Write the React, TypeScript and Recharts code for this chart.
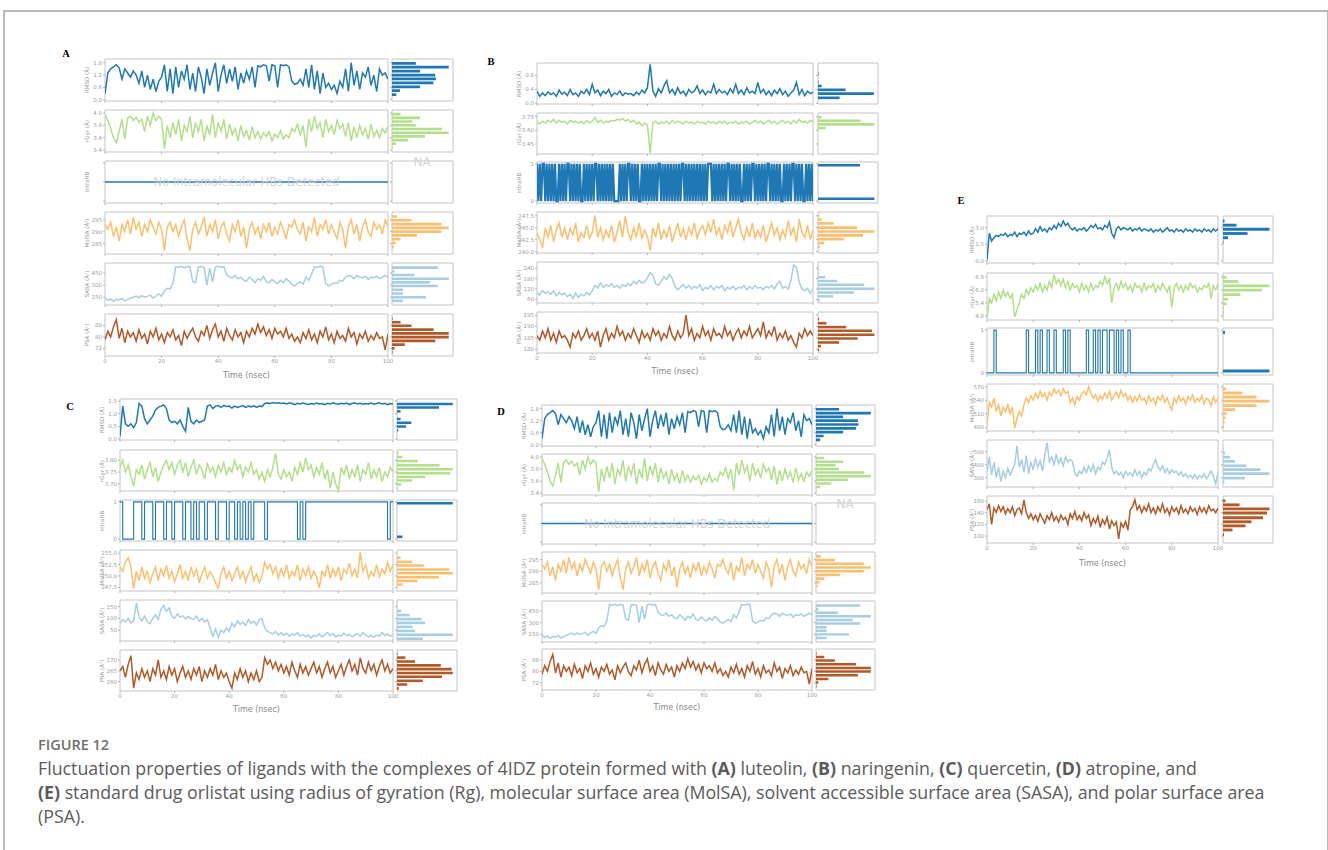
import { LineChart, Line, XAxis, YAxis, ReferenceArea, BarChart, Bar } from "recharts";

// ---- shared axis values ----
const TIME_TICKS = [0, 20, 40, 60, 80, 100];
const ROW_LABELS = ["RMSD (Å)", "rGyr (Å)", "intraHB", "MolSA (Å²)", "SASA (Å²)", "PSA (Å²)"];
const ROW_COLORS = ["#1f78b4", "#b2df8a", "#1f78b4", "#fdbf6f", "#a6cee3", "#b15928"];

// ---- panel A (luteolin); panel D shows the same traces ----
const A_RMSD = [
  0.3, 1.3, 1.5, 1.6, 1.7, 1.55, 1.0, 1.5, 1.3, 1.1,
  1.4, 1.2, 0.8, 1.4, 0.6, 1.2, 0.5, 1.0, 0.4, 0.9,
  1.1, 1.7, 0.4, 1.5, 0.3, 1.6, 0.6, 1.4, 1.0, 1.7,
  0.5, 1.3, 0.4, 1.6, 1.1, 0.3, 1.5, 0.7, 1.3, 1.8,
  0.4, 1.2, 1.7, 0.8, 1.5, 0.9, 1.6, 0.5, 1.3, 0.8,
  1.4, 1.0, 1.6, 0.6, 1.65, 1.6, 1.7, 1.65, 0.9, 1.7,
  1.65, 0.6, 1.7, 1.65, 1.7, 1.6, 0.9, 0.75, 0.8, 1.0,
  0.7, 1.5, 0.6, 1.7, 0.5, 1.4, 0.3, 1.3, 0.6, 0.8,
  0.5, 0.7, 0.3, 0.9, 0.6, 1.5, 0.4, 1.8, 0.7, 1.4,
  0.5, 1.3, 1.1, 1.6, 0.7, 1.2, 0.4, 1.5, 1.2, 1.3,
  1.0,
];
const A_RGYR = [
  3.97, 3.88, 3.75, 3.6, 3.52, 3.7, 3.9, 3.58, 3.92, 3.95,
  3.88, 3.93, 3.85, 3.9, 3.7, 3.95, 3.8, 4.0, 3.88, 3.95,
  3.9, 3.42, 3.8, 3.6, 3.85, 3.65, 3.9, 3.55, 3.8, 3.7,
  3.95, 3.6, 3.85, 3.7, 3.9, 3.55, 3.8, 3.65, 3.98, 3.6,
  3.85, 3.7, 3.9, 3.58, 3.82, 3.65, 3.75, 3.55, 3.8, 3.62,
  3.72, 3.56, 3.78, 3.6, 3.7, 3.58, 3.68, 3.62, 3.7, 3.55,
  3.66, 3.6, 3.72, 3.58, 3.65, 3.6, 3.75, 3.7, 3.82, 3.65,
  3.8, 3.45, 3.9, 3.7, 3.95, 3.75, 3.85, 3.6, 3.9, 3.7,
  3.8, 3.65, 3.88, 3.75, 3.82, 3.62, 3.85, 3.55, 3.78, 3.6,
  3.8, 3.65, 3.75, 3.58, 3.82, 3.62, 3.72, 3.6, 3.75, 3.68,
  3.78,
];
const A_HB = [0, 0];
const A_MOLSA = [
  293, 291, 294, 288, 292, 286, 293, 290, 295, 289,
  296, 291, 294, 288, 293, 290, 295, 292, 289, 294,
  291, 282, 292, 294, 290, 293, 288, 292, 295, 287,
  282, 291, 294, 289, 292, 296, 288, 293, 290, 295,
  287, 292, 294, 289, 286, 293, 290, 295, 288, 292,
  283, 291, 294, 289, 292, 287, 293, 290, 294, 288,
  292, 289, 294, 291, 287, 293, 292, 295, 291, 289,
  294, 286, 292, 290, 296, 288, 293, 291, 295, 289,
  293, 290, 287, 294, 291, 283, 292, 295, 289, 293,
  286, 292, 295, 290, 288, 294, 291, 293, 289, 295,
  292,
];
const A_SASA = [
  140, 110, 130, 100, 125, 115, 135, 105, 120, 140,
  150, 165, 145, 170, 150, 160, 175, 140, 165, 190,
  160, 230, 260, 250, 320, 530, 520, 535, 515, 530,
  525, 345, 330, 525, 530, 520, 300, 510, 340, 525,
  535, 520, 530, 430, 400, 390, 420, 380, 400, 360,
  350, 400, 370, 330, 380, 360, 410, 340, 330, 370,
  340, 320, 360, 330, 380, 350, 310, 290, 320, 340,
  310, 400, 360, 440, 530, 520, 535, 525, 320, 290,
  310, 330, 320, 360, 350, 400, 420, 410, 380, 420,
  400, 390, 410, 370, 400, 390, 410, 380, 400, 420,
  395,
];
const A_PSA = [
  78, 84, 80, 87, 92, 79, 86, 76, 84, 80,
  83, 77, 85, 79, 82, 75, 84, 80, 86, 78,
  82, 76, 83, 80, 85, 78, 81, 74, 84, 79,
  83, 86, 80, 77, 84, 81, 88, 79, 85, 89,
  80, 84, 77, 86, 81, 78, 85, 80, 83, 76,
  84, 80, 86, 82, 89, 83, 87, 81, 85, 79,
  86, 82, 84, 80, 86, 79, 82, 77, 80, 76,
  83, 79, 85, 78, 82, 76, 84, 80, 87, 78,
  82, 76, 84, 79, 81, 77, 86, 80, 83, 75,
  82, 79, 84, 77, 81, 78, 83, 79, 80, 71,
  82,
];
const A_RMSD_BINS = [1.79, 1.6, 1.41, 1.22, 1.03, 0.84, 0.65, 0.46, 0.27];
const A_RMSD_COUNTS = [39, 93, 46, 71, 72, 68, 46, 13, 7];
const A_RGYR_BINS = [3.99, 3.93, 3.87, 3.81, 3.75, 3.69, 3.63, 3.57, 3.51, 3.45];
const A_RGYR_COUNTS = [14, 46, 33, 39, 82, 93, 54, 26, 7, 1];
const A_HB_BINS = [0];
const A_HB_COUNTS = [0];
const A_MOLSA_BINS = [296.6, 295.0, 293.4, 291.8, 290.2, 288.6, 287.0, 285.4, 283.8];
const A_MOLSA_COUNTS = [8, 32, 81, 93, 81, 41, 14, 6, 3];
const A_SASA_BINS = [523, 478, 432, 386, 340, 294, 248, 202, 156, 110];
const A_SASA_COUNTS = [75, 4, 37, 93, 62, 75, 18, 18, 56, 18];
const A_PSA_BINS = [93.0, 90.5, 88.0, 85.4, 82.8, 80.2, 77.6, 75.0, 72.4, 69.8];
const A_PSA_COUNTS = [1, 14, 32, 68, 93, 93, 71, 21, 4, 1];

// ---- panel B (naringenin) ----
const B_RMSD = [
  0.35, 0.2, 0.3, 0.22, 0.33, 0.25, 0.3, 0.2, 0.38, 0.26,
  0.32, 0.22, 0.4, 0.25, 0.3, 0.2, 0.35, 0.28, 0.4, 0.25,
  0.55, 0.3, 0.38, 0.22, 0.35, 0.28, 0.4, 0.2, 0.3, 0.25,
  0.35, 0.22, 0.3, 0.26, 0.28, 0.22, 0.32, 0.25, 0.38, 0.3,
  0.45, 1.12, 0.35, 0.2, 0.42, 0.3, 0.5, 0.65, 0.3, 0.4,
  0.25, 0.45, 0.28, 0.35, 0.22, 0.4, 0.3, 0.35, 0.5, 0.28,
  0.38, 0.25, 0.35, 0.3, 0.55, 0.28, 0.4, 0.3, 0.35, 0.25,
  0.42, 0.3, 0.55, 0.28, 0.38, 0.25, 0.45, 0.3, 0.35, 0.28,
  0.6, 0.3, 0.4, 0.25, 0.35, 0.22, 0.38, 0.28, 0.42, 0.25,
  0.35, 0.2, 0.3, 0.38, 0.6, 0.25, 0.4, 0.22, 0.35, 0.28,
  0.32,
];
const B_RGYR = [
  3.69, 3.67, 3.7, 3.68, 3.71, 3.69, 3.72, 3.68, 3.71, 3.69,
  3.7, 3.67, 3.71, 3.69, 3.7, 3.68, 3.7, 3.67, 3.71, 3.68,
  3.7, 3.74, 3.69, 3.71, 3.68, 3.7, 3.69, 3.71, 3.7, 3.72,
  3.71, 3.73, 3.7, 3.72, 3.69, 3.71, 3.67, 3.69, 3.65, 3.68,
  3.66, 3.35, 3.68, 3.7, 3.67, 3.69, 3.68, 3.7, 3.67, 3.71,
  3.68, 3.7, 3.69, 3.67, 3.7, 3.68, 3.69, 3.67, 3.7, 3.68,
  3.69, 3.67, 3.7, 3.68, 3.69, 3.67, 3.7, 3.68, 3.7, 3.67,
  3.69, 3.68, 3.7, 3.67, 3.69, 3.68, 3.7, 3.67, 3.69, 3.71,
  3.68, 3.7, 3.67, 3.69, 3.71, 3.68, 3.7, 3.67, 3.69, 3.71,
  3.68, 3.7, 3.67, 3.71, 3.68, 3.72, 3.69, 3.7, 3.68, 3.71,
  3.69,
];
// sampled every 0.5 ns
const B_HB = [
  1, 0, 1, 0, 1, 1, 0, 1, 0, 1, 0, 1, 0, 1, 0, 0, 1, 0, 1, 0,
  1, 0, 1, 1, 0, 1, 0, 1, 0, 1, 0, 1, 0, 0, 1, 0, 1, 0, 1, 0,
  1, 0, 1, 1, 0, 1, 0, 1, 0, 1, 0, 1, 0, 1, 0, 1, 0, 0, 0, 0,
  1, 0, 1, 0, 1, 0, 1, 1, 0, 1, 0, 1, 0, 1, 0, 0, 1, 0, 1, 0,
  1, 0, 1, 0, 1, 0, 1, 0, 1, 1, 0, 1, 0, 1, 0, 1, 0, 1, 0, 1,
  0, 1, 0, 1, 0, 1, 1, 0, 1, 0, 1, 0, 1, 0, 1, 0, 1, 0, 1, 0,
  1, 0, 1, 0, 1, 1, 1, 0, 1, 0, 1, 0, 1, 0, 1, 0, 1, 0, 1, 1,
  0, 1, 0, 1, 0, 1, 0, 1, 0, 0, 1, 0, 1, 0, 1, 0, 1, 1, 0, 1,
  0, 1, 0, 1, 0, 1, 0, 1, 1, 0, 1, 0, 1, 0, 1, 0, 1, 0, 0, 1,
  0, 1, 0, 1, 0, 1, 1, 0, 1, 0, 1, 0, 1, 0, 0, 1, 0, 1, 0, 1,
  0,
];
const B_MOLSA = [
  244, 242.5, 240.8, 245, 243, 245.5, 242, 244.5, 246, 243,
  245, 242.5, 244.8, 243.5, 246, 242, 244, 243, 245.5, 242.8,
  244, 247.6, 243, 245, 242.5, 244.5, 243, 245.5, 242, 244,
  246.5, 243, 247.5, 244, 242.5, 245, 243, 246, 242.8, 244.5,
  243.2, 240.2, 245, 243, 246, 242.5, 244.5, 243, 245.5, 242,
  244, 246, 243, 244.8, 242.5, 245, 243.5, 246, 242.8, 244.5,
  245.5, 243.5, 246, 244, 246.8, 243.5, 245, 242.5, 245.5, 244,
  246.5, 243, 245, 246.8, 244, 242.5, 245, 243, 246, 242.8,
  244.5, 243, 245.5, 242, 244, 246, 243.5, 245, 242.5, 244.5,
  243, 246.5, 243.5, 245, 242, 246.8, 244, 243, 245.5, 242.5,
  244.5,
];
const B_SASA = [
  100, 85, 110, 95, 105, 90, 110, 80, 100, 85,
  95, 75, 90, 65, 95, 70, 90, 80, 100, 85,
  110, 140, 125, 155, 130, 145, 135, 150, 130, 140,
  125, 145, 135, 150, 140, 165, 150, 170, 155, 160,
  185, 215, 200, 150, 140, 165, 190, 175, 205, 180,
  135, 115, 130, 145, 125, 140, 120, 135, 125, 145,
  110, 130, 120, 140, 115, 135, 125, 140, 110, 130,
  120, 135, 115, 130, 125, 140, 115, 135, 120, 140,
  125, 130, 115, 135, 125, 140, 120, 150, 165, 125,
  135, 120, 170, 260, 245, 160, 120, 110, 125, 95,
  120,
];
const B_PSA = [
  186, 184, 188, 185, 189, 184, 187, 183, 188, 185,
  186, 184, 181, 187, 185, 188, 184, 186, 189, 185,
  187, 184, 188, 181, 186, 189, 184, 187, 185, 190,
  186, 188, 184, 187, 185, 189, 186, 183, 188, 185,
  187, 184, 189, 186, 188, 184, 187, 185, 190, 186,
  184, 188, 185, 187, 195, 186, 189, 184, 187, 185,
  190, 186, 188, 184, 189, 186, 187, 185, 190, 186,
  188, 184, 187, 189, 185, 188, 186, 190, 185, 187,
  189, 186, 192, 185, 188, 186, 190, 184, 187, 185,
  188, 184, 186, 183, 181, 187, 185, 189, 186, 188,
  186,
];
const B_RMSD_BINS = [0.86, 0.74, 0.63, 0.51, 0.4, 0.29, 0.17];
const B_RMSD_COUNTS = [1, 0, 1, 6, 46, 93, 36];
const B_RGYR_BINS = [3.75, 3.71, 3.67, 3.63];
const B_RGYR_COUNTS = [6, 71, 94, 13];
const B_HB_BINS = [0.95, 0.05];
const B_HB_COUNTS = [70, 94];
const B_MOLSA_BINS = [247.6, 246.8, 246.0, 245.1, 244.3, 243.5, 242.7, 241.9, 241.1];
const B_MOLSA_COUNTS = [2, 6, 26, 65, 94, 75, 43, 10, 3];
const B_SASA_BINS = [254, 234, 212, 191, 169, 147, 124, 102, 80, 58];
const B_SASA_COUNTS = [1, 2, 2, 12, 32, 77, 94, 60, 25, 3];
const B_PSA_BINS = [193.3, 191.6, 189.9, 188.3, 186.6, 184.9, 183.2, 181.6, 179.9];
const B_PSA_COUNTS = [2, 14, 47, 90, 94, 66, 35, 5, 2];

// ---- panel C (quercetin) ----
const C_RMSD = [
  0.1, 1.3, 0.6, 0.5, 0.6, 0.45, 0.65, 1.4, 1.3, 0.8,
  0.6, 0.75, 0.9, 1.15, 1.25, 1.3, 1.35, 1.2, 0.75, 0.65,
  0.7, 0.6, 0.75, 0.5, 0.3, 1.25, 0.7, 0.6, 0.75, 0.65,
  0.7, 0.75, 1.3, 1.35, 1.2, 1.3, 1.32, 1.25, 1.33, 1.28,
  1.3, 1.22, 1.3, 1.25, 1.28, 1.32, 1.25, 1.3, 1.27, 1.31,
  1.25, 1.3, 1.28, 1.4, 1.42, 1.4, 1.44, 1.41, 1.43, 1.4,
  1.42, 1.38, 1.43, 1.4, 1.36, 1.41, 1.38, 1.42, 1.39, 1.36,
  1.4, 1.37, 1.42, 1.38, 1.4, 1.36, 1.41, 1.38, 1.43, 1.39,
  1.37, 1.41, 1.38, 1.42, 1.36, 1.4, 1.43, 1.38, 1.41, 1.37,
  1.4, 1.38, 1.42, 1.37, 1.4, 1.43, 1.38, 1.41, 1.36, 1.4,
  1.38,
];
const C_RGYR = [
  3.77, 3.8, 3.75, 3.78, 3.73, 3.69, 3.76, 3.74, 3.78, 3.72,
  3.76, 3.79, 3.73, 3.77, 3.71, 3.75, 3.78, 3.8, 3.76, 3.79,
  3.74, 3.78, 3.8, 3.75, 3.79, 3.73, 3.77, 3.8, 3.74, 3.78,
  3.76, 3.72, 3.79, 3.75, 3.77, 3.73, 3.78, 3.75, 3.79, 3.74,
  3.77, 3.75, 3.8, 3.76, 3.78, 3.73, 3.77, 3.75, 3.79, 3.74,
  3.76, 3.72, 3.75, 3.71, 3.76, 3.73, 3.77, 3.83, 3.74, 3.72,
  3.76, 3.73, 3.75, 3.71, 3.77, 3.74, 3.79, 3.75, 3.81, 3.76,
  3.78, 3.73, 3.77, 3.74, 3.79, 3.72, 3.76, 3.68, 3.75, 3.7,
  3.67, 3.77, 3.74, 3.78, 3.72, 3.76, 3.73, 3.78, 3.71, 3.76,
  3.74, 3.79, 3.72, 3.76, 3.73, 3.77, 3.71, 3.75, 3.73, 3.77,
  3.75,
];
const C_HB = [
  1, 0, 0, 0, 0, 1, 1, 1, 0, 1,
  1, 1, 0, 1, 1, 1, 0, 1, 1, 0,
  1, 1, 1, 0, 1, 1, 0, 1, 0, 1,
  1, 0, 1, 1, 1, 0, 1, 1, 1, 0,
  1, 1, 0, 1, 0, 1, 0, 1, 0, 1,
  1, 1, 1, 0, 1, 1, 1, 1, 1, 1,
  1, 1, 1, 1, 1, 0, 1, 0, 1, 1,
  1, 1, 1, 1, 1, 1, 1, 1, 1, 1,
  1, 1, 1, 1, 1, 1, 1, 1, 1, 1,
  1, 1, 1, 1, 1, 1, 1, 1, 0, 1,
  1,
];
const C_MOLSA = [
  252, 251, 253, 254, 252, 247.2, 251, 249, 252, 249.5,
  251, 248.5, 250.5, 252, 249, 251.5, 250, 252.3, 249.5, 251,
  248.8, 250.5, 252.5, 249.5, 251, 249, 252, 250, 251.5, 248.5,
  250.5, 252, 249.5, 251, 250, 248.5, 247.3, 250.5, 252, 249.5,
  251, 249, 250.5, 252, 249.5, 251, 248.8, 250.5, 252, 249,
  250.5, 248.5, 250, 253, 251.5, 252.5, 250.5, 252, 249.5, 251.5,
  250, 252.5, 249.5, 251, 250, 252.5, 249, 251.5, 250, 252,
  249.5, 251, 249.8, 247.4, 251, 250, 252.5, 249.5, 251.5, 250,
  252, 249, 251.5, 250.5, 252.8, 250, 251.5, 249.5, 255.2, 251,
  252.5, 249.5, 251, 250, 252.5, 249.8, 251.5, 250.5, 253, 251,
  252.5,
];
const C_SASA = [
  80, 95, 85, 100, 80, 90, 165, 105, 90, 110,
  85, 78, 100, 115, 95, 140, 155, 130, 145, 110,
  100, 120, 105, 112, 98, 108, 100, 95, 110, 88,
  100, 85, 95, 60, 25, 55, 20, 50, 40, 60,
  45, 80, 65, 90, 75, 85, 70, 95, 80, 88,
  72, 95, 100, 60, 45, 40, 35, 45, 30, 40,
  28, 38, 25, 35, 30, 40, 25, 32, 22, 30,
  18, 28, 25, 35, 22, 30, 40, 28, 35, 22,
  30, 25, 38, 28, 32, 22, 30, 35, 25, 40,
  30, 22, 28, 20, 30, 25, 40, 28, 35, 25,
  30,
];
const C_PSA = [
  265, 267, 262, 268, 272, 257, 264, 261, 266, 262,
  265, 260, 266, 263, 270, 262, 265, 261, 267, 263,
  266, 260, 264, 267, 262, 265, 261, 266, 263, 267,
  260, 265, 262, 266, 263, 268, 261, 265, 262, 264,
  260, 257, 264, 261, 266, 262, 265, 260, 264, 261,
  265, 260, 262, 271, 268, 270, 266, 269, 265, 268,
  264, 267, 263, 269, 265, 262, 268, 264, 267, 263,
  266, 269, 264, 267, 262, 266, 269, 264, 267, 262,
  265, 268, 263, 267, 270, 265, 268, 263, 271, 266,
  264, 269, 265, 268, 263, 267, 270, 265, 268, 264,
  266,
];
const C_RMSD_BINS = [1.4, 1.26, 1.11, 0.96, 0.81, 0.66, 0.51, 0.36];
const C_RMSD_COUNTS = [93, 70, 6, 0, 6, 24, 15, 2];
const C_RGYR_BINS = [3.833, 3.816, 3.799, 3.781, 3.764, 3.747, 3.731, 3.716, 3.699, 3.683];
const C_RGYR_COUNTS = [3, 9, 35, 71, 93, 89, 47, 25, 7, 1];
const C_HB_BINS = [0.95, 0.05];
const C_HB_COUNTS = [93, 9];
const C_MOLSA_BINS = [254.1, 253.2, 252.4, 251.5, 250.7, 249.8, 249.0, 248.2];
const C_MOLSA_COUNTS = [6, 25, 45, 87, 93, 70, 34, 9];
const C_SASA_BINS = [150, 133, 116, 99, 83, 66, 49, 33, 16];
const C_SASA_COUNTS = [1, 7, 21, 41, 47, 26, 30, 93, 43];
const C_PSA_BINS = [273.1, 271.3, 269.5, 267.7, 266.0, 264.2, 262.5, 260.6, 258.9, 257.1];
const C_PSA_COUNTS = [1, 14, 30, 73, 91, 93, 75, 43, 17, 3];

// ---- panel E (orlistat) ----
const E_RMSD = [
  0.1, 2.5, 1.8, 2.1, 2.3, 2.2, 2.4, 2.3, 2.5, 2.2,
  2.4, 2.3, 2.6, 2.2, 2.5, 2.4, 2.6, 2.3, 2.7, 2.4,
  2.5, 2.9, 2.6, 3.1, 2.7, 2.9, 2.6, 3.0, 2.8, 3.2,
  2.9, 3.4, 3.1, 3.6, 3.2, 3.4, 3.0, 2.8, 3.0, 2.7,
  2.9, 2.8, 3.0, 2.7, 2.9, 3.2, 3.0, 3.3, 2.9, 3.0,
  2.8, 3.2, 3.0, 3.5, 2.5, 2.1, 2.9, 3.1, 2.8, 3.0,
  2.9, 2.8, 3.0, 2.7, 2.9, 2.8, 3.0, 2.7, 2.9, 2.8,
  2.7, 2.9, 2.6, 2.8, 2.7, 2.9, 2.6, 2.8, 3.0, 2.7,
  2.8, 2.6, 2.9, 2.7, 2.8, 2.6, 2.9, 2.7, 2.8, 2.6,
  2.9, 2.7, 2.8, 2.6, 2.9, 2.7, 2.8, 2.6, 2.9, 2.7,
  2.9,
];
const E_RGYR = [
  4.7, 5.6, 5.4, 5.8, 5.5, 5.9, 5.6, 6.0, 5.7, 5.9,
  5.6, 5.8, 4.75, 5.1, 5.4, 5.8, 5.6, 6.0, 5.8, 6.1,
  5.9, 6.2, 6.0, 6.3, 5.9, 6.2, 6.0, 6.4, 6.1, 6.7,
  6.3, 6.5, 6.2, 6.5, 6.1, 6.4, 6.0, 6.3, 6.1, 6.2,
  5.9, 6.3, 6.0, 6.2, 5.9, 6.3, 6.0, 6.2, 6.1, 6.4,
  6.2, 6.6, 6.3, 6.5, 5.4, 6.1, 6.3, 6.0, 6.4, 6.1,
  6.3, 6.0, 6.2, 5.9, 6.3, 6.1, 6.2, 5.9, 6.3, 6.0,
  6.2, 6.1, 6.3, 5.9, 6.2, 6.0, 6.3, 6.1, 5.9, 6.2,
  5.2, 6.1, 6.3, 6.0, 6.2, 5.9, 6.2, 6.0, 6.3, 6.1,
  6.2, 5.9, 6.1, 6.0, 6.2, 6.1, 6.3, 5.6, 6.2, 6.0,
  6.3,
];
const E_HB = [
  0, 0, 0, 1, 0, 0, 0, 0, 0, 0,
  0, 0, 0, 0, 0, 0, 0, 1, 0, 0,
  0, 1, 0, 1, 0, 0, 1, 0, 0, 1,
  0, 0, 0, 1, 0, 1, 0, 0, 0, 0,
  0, 0, 0, 1, 0, 0, 1, 0, 1, 0,
  1, 1, 0, 1, 1, 0, 1, 0, 1, 0,
  0, 1, 0, 0, 0, 0, 0, 0, 0, 0,
  0, 0, 0, 0, 0, 0, 0, 0, 0, 0,
  0, 0, 0, 0, 0, 0, 0, 0, 0, 0,
  0, 0, 0, 0, 0, 0, 0, 0, 0, 0,
  0,
];
const E_MOLSA = [
  485, 535, 525, 545, 515, 530, 505, 525, 515, 530,
  510, 525, 478, 500, 515, 505, 530, 545, 535, 550,
  540, 555, 545, 560, 548, 555, 540, 558, 550, 565,
  555, 562, 550, 566, 555, 560, 535, 545, 530, 548,
  540, 555, 560, 552, 570, 555, 545, 552, 538, 550,
  542, 556, 545, 560, 540, 550, 558, 545, 562, 548,
  555, 540, 550, 535, 548, 538, 552, 540, 545, 532,
  550, 538, 545, 530, 548, 540, 552, 535, 545, 530,
  518, 545, 535, 550, 538, 545, 532, 548, 540, 552,
  535, 545, 538, 550, 532, 545, 540, 528, 548, 535,
  545,
];
const E_SASA = [
  340, 460, 320, 420, 300, 380, 270, 350, 300, 370,
  320, 360, 400, 545, 380, 440, 340, 470, 330, 420,
  360, 450, 380, 430, 350, 470, 570, 420, 460, 400,
  480, 410, 450, 390, 460, 420, 440, 425, 330, 310,
  350, 330, 380, 340, 390, 350, 400, 330, 380, 360,
  420, 400, 450, 515, 380, 330, 350, 320, 340, 300,
  350, 320, 340, 310, 360, 320, 350, 300, 340, 320,
  370, 350, 400, 440, 380, 360, 390, 340, 370, 330,
  360, 340, 350, 320, 345, 310, 330, 300, 320, 295,
  325, 290, 315, 300, 330, 290, 320, 350, 310, 255,
  340,
];
const E_PSA = [
  145, 155, 120, 148, 140, 152, 142, 150, 138, 147,
  140, 150, 135, 145, 148, 138, 162, 140, 130, 138,
  128, 135, 125, 138, 130, 122, 135, 128, 140, 126,
  133, 124, 136, 128, 132, 120, 138, 130, 142, 128,
  135, 126, 140, 130, 136, 118, 130, 122, 134, 115,
  128, 120, 132, 112, 126, 118, 124, 95, 122, 115,
  125, 110, 145, 150, 162, 145, 152, 140, 150, 143,
  155, 140, 148, 138, 150, 142, 155, 140, 147, 136,
  150, 142, 148, 138, 152, 140, 146, 138, 150, 142,
  147, 137, 150, 141, 148, 139, 152, 143, 146, 140,
  148,
];
const E_RMSD_BINS = [3.64, 3.26, 2.89, 2.51, 2.13, 1.75];
const E_RMSD_COUNTS = [3, 27, 93, 49, 10, 1];
const E_RGYR_BINS = [6.6, 6.41, 6.2, 6.01, 5.8, 5.59, 5.38, 5.17, 4.96, 4.78];
const E_RGYR_COUNTS = [7, 31, 93, 78, 35, 10, 7, 2, 2, 1];
const E_HB_BINS = [0.95, 0.05];
const E_HB_COUNTS = [4, 93];
const E_MOLSA_BINS = [566, 557, 548, 539, 529, 520, 511, 502, 492, 483];
const E_MOLSA_COUNTS = [6, 39, 67, 93, 67, 24, 7, 5, 3, 2];
const E_SASA_BINS = [521, 492, 461, 429, 395, 365, 334, 300, 269];
const E_SASA_COUNTS = [1, 4, 14, 24, 47, 75, 93, 44, 3];
const E_PSA_BINS = [161, 154, 147, 140, 132, 125, 118, 111, 103];
const E_PSA_COUNTS = [5, 33, 93, 88, 80, 57, 45, 19, 2];

// ---- styling ----
const FRAME = "#c4c4c4";
const TICK = "#b4b4b4";
const TXT = "#9c9c9c";
const FONT = "'DejaVu Sans', sans-serif";

interface RowSpec {
  values: number[];
  domain: [number, number];
  ticks: number[];
  digits: number; // -1: no labels
  bins: number[];
  counts: number[];
  step?: boolean;
  dense?: boolean;
  binWidth?: number;
}

const A_ROWS: RowSpec[] = [
  { values: A_RMSD, domain: [-0.06, 1.98], ticks: [0, 0.6, 1.2, 1.8], digits: 1, bins: A_RMSD_BINS, counts: A_RMSD_COUNTS },
  { values: A_RGYR, domain: [3.37, 4.05], ticks: [3.4, 3.6, 3.8, 4.0], digits: 1, bins: A_RGYR_BINS, counts: A_RGYR_COUNTS },
  { values: A_HB, domain: [-0.055, 0.055], ticks: [-0.05, 0, 0.05], digits: -1, bins: A_HB_BINS, counts: A_HB_COUNTS, binWidth: 0.01 },
  { values: A_MOLSA, domain: [280.6, 298.3], ticks: [285, 290, 295], digits: 0, bins: A_MOLSA_BINS, counts: A_MOLSA_COUNTS },
  { values: A_SASA, domain: [53, 575], ticks: [150, 300, 450], digits: 0, bins: A_SASA_BINS, counts: A_SASA_COUNTS },
  { values: A_PSA, domain: [66.8, 95.9], ticks: [72, 80, 88], digits: 0, bins: A_PSA_BINS, counts: A_PSA_COUNTS },
];
const B_ROWS: RowSpec[] = [
  { values: B_RMSD, domain: [-0.02, 1.16], ticks: [0, 0.4, 0.8], digits: 1, bins: B_RMSD_BINS, counts: B_RMSD_COUNTS },
  { values: B_RGYR, domain: [3.34, 3.79], ticks: [3.45, 3.6, 3.75], digits: 2, bins: B_RGYR_BINS, counts: B_RGYR_COUNTS },
  { values: B_HB, domain: [-0.05, 1.05], ticks: [0, 1], digits: 0, bins: B_HB_BINS, counts: B_HB_COUNTS, binWidth: 0.1, dense: true },
  { values: B_MOLSA, domain: [239.7, 248.3], ticks: [240, 242.5, 245, 247.5], digits: 1, bins: B_MOLSA_BINS, counts: B_MOLSA_COUNTS },
  { values: B_SASA, domain: [38.5, 276.6], ticks: [60, 120, 180, 240], digits: 0, bins: B_SASA_BINS, counts: B_SASA_COUNTS },
  { values: B_PSA, domain: [178.4, 196.3], ticks: [180, 185, 190, 195], digits: 0, bins: B_PSA_BINS, counts: B_PSA_COUNTS },
];
const C_ROWS: RowSpec[] = [
  { values: C_RMSD, domain: [-0.04, 1.58], ticks: [0, 0.5, 1.0, 1.5], digits: 1, bins: C_RMSD_BINS, counts: C_RMSD_COUNTS },
  { values: C_RGYR, domain: [3.669, 3.844], ticks: [3.7, 3.75, 3.8], digits: 2, bins: C_RGYR_BINS, counts: C_RGYR_COUNTS },
  { values: C_HB, domain: [-0.05, 1.05], ticks: [0, 1], digits: 0, bins: C_HB_BINS, counts: C_HB_COUNTS, step: true, binWidth: 0.1 },
  { values: C_MOLSA, domain: [246.7, 255.7], ticks: [247.5, 250, 252.5, 255], digits: 1, bins: C_MOLSA_BINS, counts: C_MOLSA_COUNTS },
  { values: C_SASA, domain: [4.7, 178], ticks: [50, 100, 150], digits: 0, bins: C_SASA_BINS, counts: C_SASA_COUNTS },
  { values: C_PSA, domain: [255.7, 274.6], ticks: [260, 265, 270], digits: 0, bins: C_PSA_BINS, counts: C_PSA_COUNTS },
];
const E_ROWS: RowSpec[] = [
  { values: E_RMSD, domain: [-0.18, 4.05], ticks: [0, 1.5, 3.0], digits: 1, bins: E_RMSD_BINS, counts: E_RMSD_COUNTS },
  { values: E_RGYR, domain: [4.61, 6.78], ticks: [4.8, 5.4, 6.0, 6.6], digits: 1, bins: E_RGYR_BINS, counts: E_RGYR_COUNTS },
  { values: E_HB, domain: [-0.05, 1.05], ticks: [0, 1], digits: 0, bins: E_HB_BINS, counts: E_HB_COUNTS, step: true, binWidth: 0.1 },
  { values: E_MOLSA, domain: [471.8, 576], ticks: [480, 510, 540, 570], digits: 0, bins: E_MOLSA_BINS, counts: E_MOLSA_COUNTS },
  { values: E_SASA, domain: [228, 590], ticks: [300, 400, 500], digits: 0, bins: E_SASA_BINS, counts: E_SASA_COUNTS },
  { values: E_PSA, domain: [88, 168.5], ticks: [100, 120, 140, 160], digits: 0, bins: E_PSA_BINS, counts: E_PSA_COUNTS },
];

interface PanelLayout {
  letter: string;
  letterX: number;
  letterY: number;
  left: number;
  width: number;
  histLeft: number;
  histWidth: number;
  tops: number[];
  height: number;
  labelDx: number;
  timeY: number;
  noHB?: boolean;
}

const PANELS: { layout: PanelLayout; rows: RowSpec[] }[] = [
  {
    layout: { letter: "A", letterX: 66, letterY: 53, left: 105, width: 283, histLeft: 392, histWidth: 60, tops: [59, 110, 161, 212, 263, 314], height: 42, labelDx: 18, timeY: 375, noHB: true },
    rows: A_ROWS,
  },
  {
    layout: { letter: "B", letterX: 491, letterY: 61, left: 537, width: 276, histLeft: 818, histWidth: 59, tops: [63, 113, 162, 212, 262, 312], height: 41, labelDx: 18, timeY: 371 },
    rows: B_ROWS,
  },
  {
    layout: { letter: "C", letterX: 70, letterY: 406, left: 120, width: 273, histLeft: 397, histWidth: 59, tops: [399, 450, 500, 550, 600, 650], height: 41, labelDx: 18, timeY: 709 },
    rows: C_ROWS,
  },
  {
    layout: { letter: "D", letterX: 501, letterY: 411, left: 542, width: 270, histLeft: 816, histWidth: 58, tops: [405, 454, 503, 552, 601, 649], height: 41, labelDx: 18, timeY: 707, noHB: true },
    rows: A_ROWS,
  },
  {
    layout: { letter: "E", letterX: 961, letterY: 200, left: 987, width: 231, histLeft: 1223, histWidth: 49, tops: [216, 273, 328, 384, 440, 496], height: 47, labelDx: 15, timeY: 563 },
    rows: E_ROWS,
  },
];

function Trace({ row, color, left, top, w, h, bottom }: { row: RowSpec; color: string; left: number; top: number; w: number; h: number; bottom: boolean }) {
  const n = row.values.length;
  const data = row.values.map((v, i) => ({ t: (i * 100) / (n - 1), v }));
  const axisW = 30;
  const padR = 9;
  const xh = bottom ? 12 : 3;
  const lw = row.dense ? 2.2 : row.step ? 1.1 : 1.5;
  return (
    <div style={{ position: "absolute", left: left - axisW, top: top - 1 }}>
      <LineChart width={w + axisW + padR} height={h + 1 + xh} data={data} margin={{ top: 1, right: padR, bottom: 0, left: 0 }}>
        <XAxis
          dataKey="t"
          type="number"
          domain={[0, 100]}
          ticks={TIME_TICKS}
          interval={0}
          height={xh}
          tickSize={2}
          tickMargin={1}
          axisLine={false}
          tickLine={{ stroke: TICK }}
          tick={{ fontSize: 5.5, fill: TXT, fontFamily: FONT }}
          tickFormatter={(v: number) => (bottom ? String(v) : "")}
          allowDataOverflow
        />
        <YAxis
          type="number"
          domain={row.domain}
          ticks={row.ticks}
          interval={0}
          width={axisW}
          tickSize={2}
          tickMargin={1}
          axisLine={false}
          tickLine={{ stroke: TICK }}
          tick={{ fontSize: 5.5, fill: TXT, fontFamily: FONT }}
          tickFormatter={(v: number) => (row.digits < 0 ? "" : v.toFixed(row.digits))}
          allowDataOverflow
        />
        <ReferenceArea x1={0} x2={100} y1={row.domain[0]} y2={row.domain[1]} fill="none" stroke={FRAME} strokeWidth={1} ifOverflow="visible" />
        <Line type={row.step ? "stepAfter" : "linear"} dataKey="v" stroke={color} strokeWidth={lw} strokeLinejoin="miter" dot={false} isAnimationActive={false} />
      </LineChart>
    </div>
  );
}

function Hist({ row, color, left, top, w, h }: { row: RowSpec; color: string; left: number; top: number; w: number; h: number }) {
  const data = row.bins.map((v, i) => ({ v, c: row.counts[i] }));
  let gap = row.binWidth ?? Infinity;
  for (let i = 1; i < row.bins.length; i++) gap = Math.min(gap, Math.abs(row.bins[i] - row.bins[i - 1]));
  if (!isFinite(gap)) gap = (row.domain[1] - row.domain[0]) * 0.08;
  const barSize = Math.max(1.5, (gap / (row.domain[1] - row.domain[0])) * h * 0.7);
  return (
    <div style={{ position: "absolute", left: left - 3, top: top - 1 }}>
      <BarChart layout="vertical" width={w + 5} height={h + 2} data={data} margin={{ top: 1, right: 1, bottom: 1, left: 0 }}>
        <XAxis type="number" domain={[0, 100]} hide />
        <YAxis
          type="number"
          dataKey="v"
          domain={row.domain}
          ticks={row.ticks}
          interval={0}
          width={3}
          tickSize={2}
          axisLine={false}
          tickLine={{ stroke: TICK }}
          tickFormatter={() => ""}
          reversed
          allowDataOverflow
        />
        <ReferenceArea x1={0} x2={100} y1={row.domain[0]} y2={row.domain[1]} fill="none" stroke={FRAME} strokeWidth={1} ifOverflow="visible" />
        <Bar dataKey="c" fill={color} barSize={barSize} isAnimationActive={false} />
      </BarChart>
    </div>
  );
}

function Panel({ layout, rows }: { layout: PanelLayout; rows: RowSpec[] }) {
  const { left, width, histLeft, histWidth, tops, height } = layout;
  return (
    <>
      <div style={{ position: "absolute", left: layout.letterX, top: layout.letterY, transform: "translate(-50%,-50%)", fontFamily: "'Liberation Serif', serif", fontWeight: 700, fontSize: 10.5, color: "#000" }}>
        {layout.letter}
      </div>
      {rows.map((row, i) => (
        <div key={i}>
          <Trace row={row} color={ROW_COLORS[i]} left={left} top={tops[i]} w={width} h={height} bottom={i === rows.length - 1} />
          <Hist row={row} color={ROW_COLORS[i]} left={histLeft} top={tops[i]} w={histWidth} h={height} />
          <div
            style={{
              position: "absolute",
              left: left - layout.labelDx,
              top: tops[i] + height / 2,
              transform: "translate(-50%,-50%) rotate(-90deg)",
              fontSize: 5.5,
              color: TXT,
              whiteSpace: "nowrap",
            }}
          >
            {ROW_LABELS[i]}
          </div>
        </div>
      ))}
      {layout.noHB && (
        <>
          <div style={{ position: "absolute", left: left + width / 2, top: tops[2] + height / 2, transform: "translate(-50%,-50%)", fontSize: 11.5, color: "rgba(205,205,205,0.9)", whiteSpace: "nowrap" }}>
            No Intramolecular HBs Detected
          </div>
          <div style={{ position: "absolute", left: histLeft + histWidth / 2, top: tops[2] + 1, transform: "translate(-50%,-50%)", fontSize: 12, color: "#d4d4d4" }}>NA</div>
        </>
      )}
      <div style={{ position: "absolute", left: left + width / 2, top: layout.timeY, transform: "translate(-50%,-50%)", fontSize: 8, color: "#888", whiteSpace: "nowrap" }}>
        Time (nsec)
      </div>
    </>
  );
}

export default function App() {
  const cap = { position: "absolute" as const, left: 38, fontFamily: "'Open Sans', sans-serif", fontSize: 17.8, color: "#5a5a5a", whiteSpace: "nowrap" as const, lineHeight: "20px" };
  return (
    <div style={{ position: "absolute", left: 0, top: 0, width: 1328, height: 850, background: "#fff", fontFamily: FONT, overflow: "hidden" }}>
      <div style={{ position: "absolute", left: 3, top: 10, width: 1322, height: 860, borderTop: "2px solid #b9b9b9", borderLeft: "2px solid #b9b9b9", borderRight: "2px solid #b9b9b9" }} />
      {PANELS.map((p) => (
        <Panel key={p.layout.letter} layout={p.layout} rows={p.rows} />
      ))}
      <div style={{ position: "absolute", left: 38, top: 736, fontFamily: "'Open Sans', sans-serif", fontSize: 14.5, fontWeight: 600, color: "#6e6e6e", lineHeight: "18px" }}>FIGURE 12</div>
      <div style={{ ...cap, top: 758 }}>
        Fluctuation properties of ligands with the complexes of 4IDZ protein formed with <b>(A)</b> luteolin, <b>(B)</b> naringenin, <b>(C)</b> quercetin, <b>(D)</b> atropine, and
      </div>
      <div style={{ ...cap, top: 782 }}>
        <b>(E)</b> standard drug orlistat using radius of gyration (Rg), molecular surface area (MolSA), solvent accessible surface area (SASA), and polar surface area
      </div>
      <div style={{ ...cap, top: 806 }}>(PSA).</div>
    </div>
  );
}
